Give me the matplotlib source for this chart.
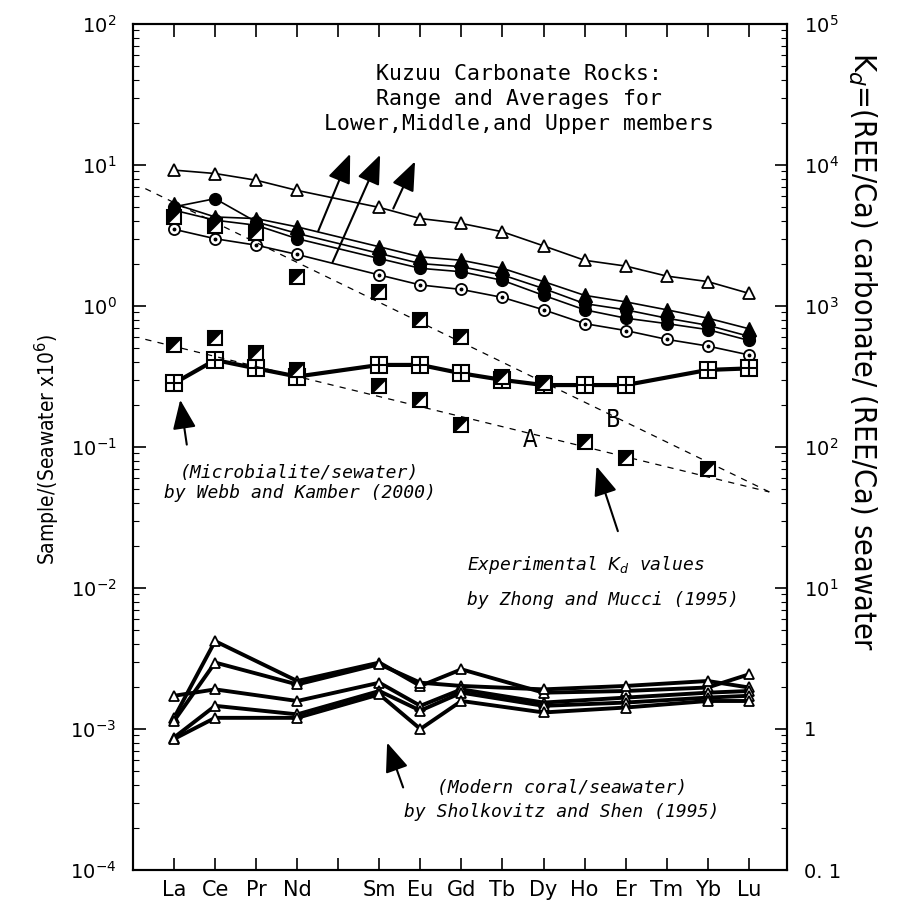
import numpy as np
import matplotlib
matplotlib.use("Agg")
import matplotlib.pyplot as plt
from matplotlib.path import Path
from matplotlib.ticker import LogLocator, NullLocator

nan = np.nan

# REE order, Pm kept as an empty slot
elements = ["La", "Ce", "Pr", "Nd", "Pm", "Sm", "Eu", "Gd", "Tb", "Dy", "Ho", "Er", "Tm", "Yb", "Lu"]
tick_labels = ["La", "Ce", "Pr", "Nd", "", "Sm", "Eu", "Gd", "Tb", "Dy", "Ho", "Er", "Tm", "Yb", "Lu"]

# Kuzuu carbonate rocks (sample / seawater x 10^6)
kuzuu_max = [9.2, 8.7, 7.8, 6.6, nan, 5.0, 4.17, 3.85, 3.36, 2.67, 2.11, 1.92, 1.63, 1.49, 1.23]
kuzuu_min = [3.5, 3.0, 2.7, 2.32, nan, 1.66, 1.41, 1.31, 1.15, 0.94, 0.75, 0.67, 0.58, 0.52, 0.45]
avg_upper = [5.3, 4.28, 4.17, 3.64, nan, 2.63, 2.23, 2.11, 1.85, 1.49, 1.19, 1.07, 0.94, 0.82, 0.69]
avg_middle = [5.05, 5.77, 3.95, 3.27, nan, 2.36, 2.0, 1.90, 1.66, 1.33, 1.04, 0.94, 0.82, 0.73, 0.61]
avg_lower = [4.78, 4.06, 3.74, 3.0, nan, 2.17, 1.85, 1.75, 1.52, 1.19, 0.94, 0.82, 0.75, 0.68, 0.57]

# Microbialite / seawater (Webb and Kamber 2000)
microbialite = [0.283, 0.414, 0.361, 0.316, nan, 0.382, 0.382, 0.333, 0.299, 0.275, 0.275, 0.275, nan, 0.352, 0.361]

# Modern coral / seawater (Sholkovitz and Shen 1995)
coral_1 = [0.00120, 0.0042, nan, 0.00219, nan, 0.00296, 0.00202, 0.00265, nan, 0.00181, nan, 0.00186, nan, 0.00197, 0.00244]
coral_2 = [0.00114, 0.00296, nan, 0.00207, nan, 0.00288, 0.00213, 0.00202, nan, 0.00191, nan, 0.00202, nan, 0.00219, 0.00197]
coral_3 = [0.00172, 0.00191, nan, 0.00158, nan, 0.00213, 0.00146, 0.00191, nan, 0.00154, nan, 0.00167, nan, 0.00181, 0.00186]
coral_4 = [0.00087, 0.00146, nan, 0.00127, nan, 0.00186, 0.00135, 0.00181, nan, 0.00146, nan, 0.00154, nan, 0.00167, 0.00172]
coral_5 = [0.00085, 0.00120, nan, 0.00120, nan, 0.00176, 0.00100, 0.00158, nan, 0.00131, nan, 0.00142, nan, 0.00158, 0.00158]
corals = [coral_1, coral_2, coral_3, coral_4, coral_5]

# Experimental Kd (Zhong and Mucci 1995), right axis units
kd_B = [4280, 3700, 3270, 1610, nan, 1260, 790, 600, 316, 283, nan, nan, nan, nan, nan]
kd_A = [528, 590, 462, 352, nan, 269, 216, 143, nan, nan, 109, 84, nan, 70, nan]
# trend lines A and B (start / end)
trend_x = [-0.7, 14.5]
trend_A = [580, 48]
trend_B = [6800, 48]

x = np.arange(len(elements))


def draw(axis, vals, **kw):
    v = np.array(vals, dtype=float)
    m = ~np.isnan(v)
    axis.plot(x[m], v[m], **kw)


fig = plt.figure(figsize=(8.99, 9.14), dpi=100)
ax = fig.add_axes([133 / 899, 1 - 870 / 914, 654 / 899, 846 / 914])
ax.set_yscale("log")
ax.set_ylim(1e-4, 1e2)
ax.set_xlim(-1, 14.93)

ax2 = ax.twinx()
ax2.set_yscale("log")
ax2.set_ylim(0.1, 1e5)

# Kuzuu range and averages
draw(ax, kuzuu_max, color="k", lw=1.2, marker="^", ms=9, mfc="white", mec="k", mew=1.3, zorder=3)
draw(ax, kuzuu_min, color="k", lw=1.2, marker="o", ms=8, mfc="white", mec="k", mew=1.3, zorder=3)
draw(ax, kuzuu_min, ls="none", marker="o", ms=1.8, color="k", zorder=4)
draw(ax, avg_lower, color="k", lw=1.2, marker="o", ms=8.5, mfc="k", mec="k", zorder=3)
draw(ax, avg_middle, color="k", lw=1.2, marker="o", ms=8.5, mfc="k", mec="k", zorder=3)
draw(ax, avg_upper, color="k", lw=1.2, marker="^", ms=9.5, mfc="k", mec="k", zorder=3)

# microbialite: square with cross
draw(ax, microbialite, color="k", lw=3, marker="s", ms=11, mfc="white", mec="k", mew=1.5, zorder=3)
draw(ax, microbialite, ls="none", marker="+", ms=11, mec="k", mew=1.5, zorder=4)

# modern corals
for c in corals:
    draw(ax, c, color="k", lw=2.8, marker="^", ms=7, mfc="white", mec="k", mew=1.3, zorder=3)

# experimental Kd: half-filled squares and dashed trends
half = Path([(-1, -1), (-1, 1), (1, 1), (-1, -1)])
ax2.plot(trend_x, trend_A, color="k", lw=0.9, ls=(0, (5, 5)))
ax2.plot(trend_x, trend_B, color="k", lw=0.9, ls=(0, (5, 5)))
for kd in (kd_A, kd_B):
    draw(ax2, kd, ls="none", marker="s", ms=10, mfc="white", mec="k", mew=1.5, zorder=5)
    draw(ax2, kd, ls="none", marker=half, ms=10, mfc="k", mec="k", mew=0.5, zorder=6)

# axes styling
for a in (ax, ax2):
    for s in a.spines.values():
        s.set_linewidth(1.5)

ax.set_xticks(x)
ax.set_xticklabels(tick_labels)
ax.xaxis.set_minor_locator(NullLocator())
ax.tick_params(axis="x", which="major", direction="in", top=True, length=9, width=1.2,
               labelsize=15, pad=7)

ax.set_yticks([1e-4, 1e-3, 1e-2, 1e-1, 1, 10, 100])
ax.set_yticklabels([r"$10^{-4}$", r"$10^{-3}$", r"$10^{-2}$", r"$10^{-1}$",
                    r"$10^{0}$", r"$10^{1}$", r"$10^{2}$"])
ax.yaxis.set_minor_locator(LogLocator(base=10, subs=np.arange(2, 10), numticks=100))
ax.tick_params(axis="y", which="major", direction="in", length=9, width=1.2, labelsize=14, pad=12)
ax.tick_params(axis="y", which="minor", direction="in", length=4, width=0.8)

ax2.set_yticks([0.1, 1, 10, 100, 1e3, 1e4, 1e5])
ax2.set_yticklabels(["0. 1", "1", r"$10^{1}$", r"$10^{2}$", r"$10^{3}$", r"$10^{4}$", r"$10^{5}$"])
ax2.yaxis.set_minor_locator(LogLocator(base=10, subs=np.arange(2, 10), numticks=100))
ax2.tick_params(axis="y", which="major", direction="in", length=9, width=1.2, labelsize=14, pad=12)
ax2.tick_params(axis="y", which="minor", direction="in", length=4, width=0.8)

fig.text(0.053, 0.508, r"Sample/(Seawater x10$^{6}$)", rotation=90, ha="center", va="center",
         fontsize=15, fontstretch="condensed")
fig.text(0.959, 0.615, r"K$_d$=(REE/Ca) carbonate/ (REE/Ca) seawater", rotation=-90,
         ha="center", va="center", fontsize=22, fontstretch="condensed")

# annotations
mono = "DejaVu Sans Mono"
ax.text(0.590, 0.911, "Kuzuu Carbonate Rocks:\nRange and Averages for\nLower,Middle,and Upper members",
        transform=ax.transAxes, ha="center", va="center", family=mono, fontsize=15.5, linespacing=1.3)
ax.text(0.255, 0.469, "(Microbialite/sewater)", transform=ax.transAxes, ha="center", va="center",
        family=mono, style="italic", fontsize=13)
ax.text(0.255, 0.4456, "by Webb and Kamber (2000)", transform=ax.transAxes, ha="center", va="center",
        family=mono, style="italic", fontsize=13)
ax.text(0.511, 0.3605, r"Experimental $K_d$ values", transform=ax.transAxes, ha="left", va="center",
        family=mono, style="italic", fontsize=13)
ax.text(0.511, 0.319, "by Zhong and Mucci (1995)", transform=ax.transAxes, ha="left", va="center",
        family=mono, style="italic", fontsize=13)
ax.text(0.656, 0.097, "(Modern coral/seawater)", transform=ax.transAxes, ha="center", va="center",
        family=mono, style="italic", fontsize=13)
ax.text(0.656, 0.0686, "by Sholkovitz and Shen (1995)", transform=ax.transAxes, ha="center", va="center",
        family=mono, style="italic", fontsize=13)
ax.text(8.67, 0.112, "A", ha="center", va="center", fontsize=17, fontstretch="condensed")
ax.text(10.70, 0.155, "B", ha="center", va="center", fontsize=17, fontstretch="condensed")

arrows = [((3.51, 3.39), (4.29, 12.0)),
          ((3.86, 2.04), (5.02, 11.8)),
          ((5.34, 4.91), (5.87, 10.6)),
          ((0.31, 0.104), (0.15, 0.216)),
          ((10.81, 0.0253), (10.29, 0.073)),
          ((5.58, 0.000385), (5.19, 0.0008))]
for tail, tip in arrows:
    ax.annotate("", xy=tip, xytext=tail,
                arrowprops=dict(arrowstyle="-|>,head_length=1.0,head_width=0.4", color="k",
                                lw=1.5, mutation_scale=18, shrinkA=0, shrinkB=0))

fig.savefig("out.png", dpi=100)
